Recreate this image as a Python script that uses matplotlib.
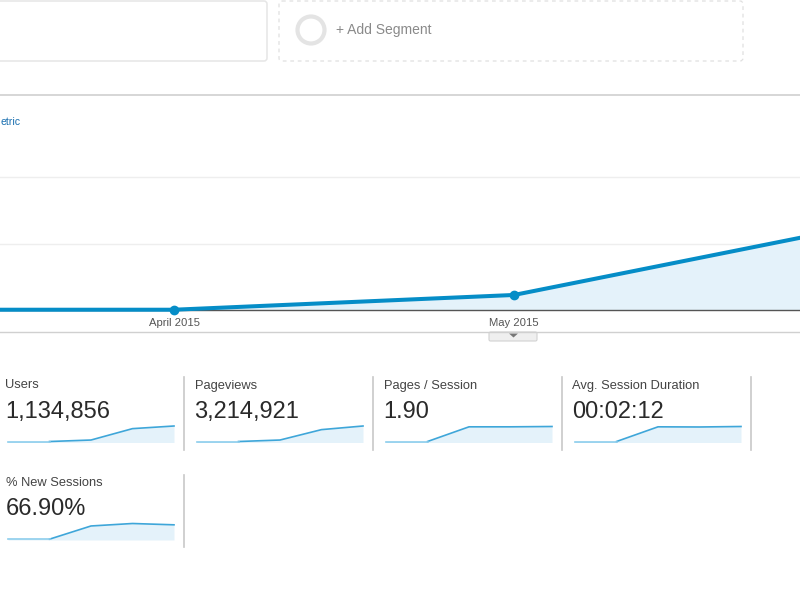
"""Analytics overview screenshot: sessions trend plus metric sparkline cards."""

import matplotlib.pyplot as plt
from matplotlib.patches import Circle, FancyBboxPatch, Polygon

plt.switch_backend("Agg")
plt.rcParams["font.family"] = ["Liberation Sans", "DejaVu Sans"]

W, H = 800, 600

months = ["March 2015", "April 2015", "May 2015", "June 2015"]
sessions = [2000, 2000, 113000, 624000]
y_ticks = [0, 500000, 1000000]

metric_names = ["Users", "Pageviews", "Pages / Session", "Avg. Session Duration", "% New Sessions"]
metric_values = ["1,134,856", "3,214,921", "1.90", "00:02:12", "66.90%"]
spark_users = [6, 6, 15, 84, 100]
spark_pageviews = [6, 6, 15, 78, 100]
spark_pages = [6, 6, 95, 95, 97]
spark_duration = [6, 6, 95, 94, 97]
spark_new = [5, 5, 85, 100, 92]
sparks = [spark_users, spark_pageviews, spark_pages, spark_duration, spark_new]

LINE = "#058dc7"
FILL = "#e4f2fa"
SPARK = "#3ea6d9"
SPARK_FLAT = "#8ccdec"


def px_axes(fig, left, top, right, bottom):
    """Axes placed by pixel box, y measured from the top of the image."""
    return fig.add_axes([left / W, 1 - bottom / H, (right - left) / W, (bottom - top) / H])


def px_text(fig, x, y, s, **kwargs):
    # y is the text baseline
    fig.text(x / W, 1 - y / H, s, va="baseline", **kwargs)


fig = plt.figure(figsize=(W / 100, H / 100), dpi=100, facecolor="white")

# Page furniture, drawn on a full-size pixel overlay
bg = fig.add_axes([0, 0, 1, 1], zorder=0)
bg.set_xlim(0, W)
bg.set_ylim(H, 0)
bg.axis("off")
bg.add_patch(FancyBboxPatch((-20, 1), 287, 60, boxstyle="round,pad=0,rounding_size=3",
                            facecolor="white", edgecolor="#e6e6e6", linewidth=1.1))
bg.add_patch(FancyBboxPatch((279, 1), 464, 60, boxstyle="round,pad=0,rounding_size=3",
                            facecolor="white", edgecolor="#e0e0e0", linewidth=0.9,
                            linestyle=(0, (3, 3))))
bg.add_patch(Circle((311, 30), 13.5, facecolor="white", edgecolor="#e4e4e4", linewidth=3.0))
bg.plot([0, W], [95, 95], color="#cccccc", linewidth=1.1)
bg.plot([0, W], [332, 332], color="#d0d0d0", linewidth=1.0)
bg.add_patch(FancyBboxPatch((489, 332), 48, 9, boxstyle="round,pad=0,rounding_size=1.5",
                            facecolor="#efefef", edgecolor="#d2d2d2", linewidth=0.8))
bg.add_patch(Polygon([(509, 333.5), (518, 333.5), (513.5, 337.5)], facecolor="#777777"))

px_text(fig, 336, 34, "+ Add Segment", color="#8a8a8a", fontsize=10)
px_text(fig, 0.5, 125, "etric", color="#1a6fb0", fontsize=7.6)

# Main trend chart
ax = px_axes(fig, 0, 110.5, W, 310)
ax.patch.set_alpha(0)
x = list(range(len(months)))
ax.fill_between(x, sessions, color=FILL, linewidth=0)
ax.plot(x, sessions, color=LINE, linewidth=2.9, marker="o", markersize=6,
        solid_capstyle="round", clip_on=False, zorder=5)
ax.set_yticks(y_ticks)
ax.set_xticks(x)
ax.set_xticklabels(months, fontsize=8.1, color="#555555")
ax.set_xlim(1 - 174 / 340, 1 + 626 / 340)
ax.set_ylim(0, 1500000)
ax.tick_params(axis="x", length=0, pad=6)
ax.tick_params(axis="y", length=0, labelleft=False)
ax.grid(True, axis="y", color="#eeeeee", linewidth=1.0)
ax.set_axisbelow(True)
for side in ("top", "left", "right"):
    ax.spines[side].set_visible(False)
ax.spines["bottom"].set_color("#555555")
ax.spines["bottom"].set_linewidth(1.0)

# Metric cards
card_lefts = [8, 197, 386, 575, 8]
card_rows = [0, 0, 0, 0, 1]
row_label_y = [388.5, 486.5]
row_value_y = [418, 515]
row_spark = [(426, 442.5), (523.5, 540)]
row_rule = [(377, 450), (475, 547)]

for name, value, spark, left, row in zip(metric_names, metric_values, sparks, card_lefts, card_rows):
    px_text(fig, left - 2.5, row_label_y[row], name, color="#444444", fontsize=9.3)
    px_text(fig, left - 2.5, row_value_y[row], value, color="#2a2a2a", fontsize=17)

    top, bottom = row_spark[row]
    sp = px_axes(fig, left, top, left + 166, bottom)
    sp.patch.set_alpha(0)
    pos = list(range(len(spark)))
    sp.fill_between(pos, spark, color=FILL, linewidth=0)
    sp.plot(pos[1:], spark[1:], color=SPARK, linewidth=1.2, clip_on=False)
    sp.plot(pos[:2], spark[:2], color=SPARK_FLAT, linewidth=1.2, clip_on=False)
    sp.set_xlim(0, len(spark) - 1)
    sp.set_ylim(0, 100)
    sp.axis("off")

    rule_top, rule_bottom = row_rule[row]
    bg.plot([left + 176] * 2, [rule_top, rule_bottom], color="#c8c8c8", linewidth=1.2)

fig.savefig("out.png", dpi=100)
plt.close(fig)
